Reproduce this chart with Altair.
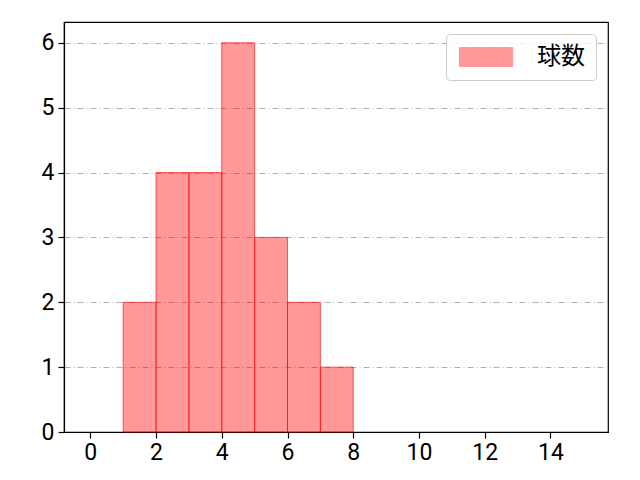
import altair as alt
import pandas as pd

bin_start = [1, 2, 3, 4, 5, 6, 7]
bin_end = [2, 3, 4, 5, 6, 7, 8]
counts = [2, 4, 4, 6, 3, 2, 1]
series = ["球数"] * 7

df = pd.DataFrame({"x0": bin_start, "x1": bin_end, "y": counts, "s": series})

FONT = "Noto Sans CJK JP"
NUMFONT = "Roboto"
FS = 23

bars = alt.Chart(df).mark_rect(
    fillOpacity=0.4, stroke="red", strokeOpacity=0.6, strokeWidth=1
).encode(
    x=alt.X("x0:Q", scale=alt.Scale(domain=[-0.8, 15.75], nice=False, zero=False),
            axis=alt.Axis(values=[0, 2, 4, 6, 8, 10, 12, 14], grid=False, title=None,
                          labelFontSize=FS, labelFont=NUMFONT, labelColor="black",
                          domainColor="black", tickColor="black", tickSize=6,
                          labelPadding=3, domainWidth=1.2, tickWidth=1.2,
                          labelFlush=False)),
    x2="x1:Q",
    y=alt.Y("y:Q", scale=alt.Scale(domain=[0, 6.32], nice=False),
            axis=alt.Axis(values=[0, 1, 2, 3, 4, 5, 6], title=None,
                          grid=True, gridColor="#b0b0b0", gridDash=[6, 3, 1, 3],
                          gridWidth=1,
                          labelFontSize=FS, labelFont=NUMFONT, labelColor="black",
                          domainColor="black", tickColor="black", tickSize=6,
                          labelPadding=4, domainWidth=1.2, tickWidth=1.2,
                          labelFlush=False)),
    y2=alt.datum(0),
    color=alt.Color("s:N", scale=alt.Scale(range=["red"]),
                    legend=alt.Legend(title=None, orient="top-right",
                                      labelFont=FONT, labelFontSize=24,
                                      labelColor="black",
                                      symbolType="M-1,-1H4.6V1H-1Z",
                                      symbolSize=361, symbolOpacity=0.4,
                                      symbolStrokeColor="red", symbolStrokeWidth=1,
                                      fillColor="rgba(255,255,255,0.8)",
                                      strokeColor="#cccccc",
                                      cornerRadius=4, padding=11, offset=12,
                                      labelOffset=56)),
)

chart = bars.properties(
    width=544, height=410,
    autosize=alt.AutoSizeParams(type="none"),
    padding={"left": 56, "top": 14, "right": 24, "bottom": 40},
).configure_view(stroke="black", strokeWidth=1.2)

chart.save("out.html", embed_options={"renderer": "svg", "actions": False})
